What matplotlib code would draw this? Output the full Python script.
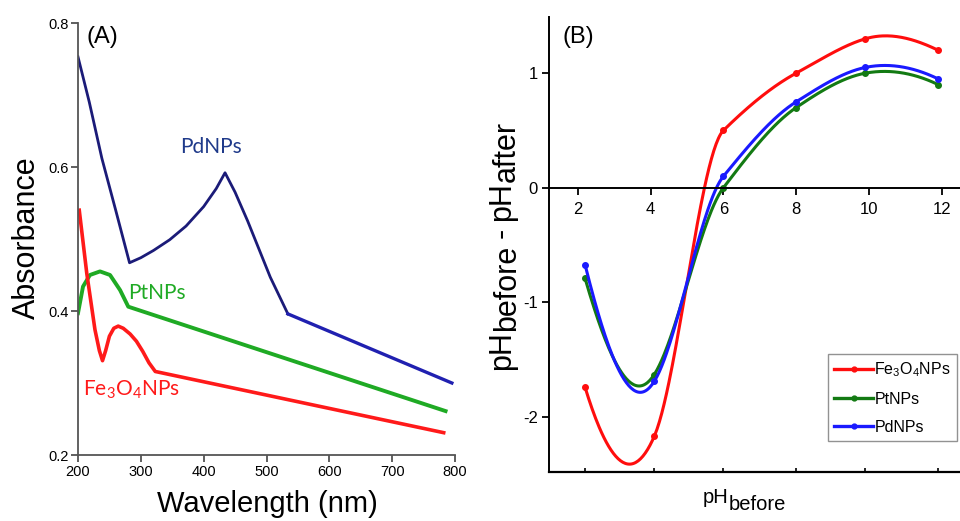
import matplotlib
matplotlib.use("Agg")
import matplotlib.pyplot as plt
import numpy as np
from matplotlib.transforms import IdentityTransform

plt.rcParams["font.family"] = ["Liberation Sans", "DejaVu Sans"]
plt.rcParams["axes.unicode_minus"] = False

# (A) UV-vis spectra
pd_nm = [200, 218, 238, 260, 282, 300, 320, 346, 372, 400, 420, 434, 450, 470, 506, 534, 795]
pd_abs = [0.753, 0.69, 0.612, 0.54, 0.467, 0.474, 0.484, 0.499, 0.518, 0.545, 0.570, 0.592,
          0.565, 0.525, 0.447, 0.396, 0.300]
pt_nm = [200, 208, 219, 235, 251, 267, 280, 785]
pt_abs = [0.397, 0.434, 0.450, 0.455, 0.450, 0.429, 0.406, 0.261]
fe_nm = [202, 214, 227, 234, 239, 244, 250, 257, 264, 272, 283, 293, 303, 313, 323, 782]
fe_abs = [0.540, 0.452, 0.374, 0.345, 0.331, 0.345, 0.365, 0.376, 0.379, 0.376, 0.368,
          0.358, 0.344, 0.328, 0.316, 0.231]
pd_break = 534  # colour changes after the shoulder

# (B) point of zero charge
ph_before = [2.2, 4.1, 6.0, 8.0, 9.9, 11.9]
d_fe = [-1.74, -2.17, 0.50, 1.00, 1.30, 1.20]
d_pt = [-0.79, -1.63, 0.00, 0.70, 1.00, 0.90]
d_pd = [-0.67, -1.69, 0.10, 0.75, 1.05, 0.95]

FE_LABEL = r"Fe$_\mathregular{3}$O$_\mathregular{4}$NPs"


def akima(x, y, n=300):
    """Akima spline through the points, as Origin draws its 'spline' connector."""
    x = np.asarray(x, float); y = np.asarray(y, float)
    d = np.diff(y) / np.diff(x)
    # two extrapolated secants on each side
    d = np.concatenate([[3 * d[0] - 2 * d[1], 2 * d[0] - d[1]], d,
                        [2 * d[-1] - d[-2], 3 * d[-1] - 2 * d[-2]]])
    t = np.empty(len(x))
    for i in range(len(x)):
        dm2, dm1, d0, dp1 = d[i], d[i + 1], d[i + 2], d[i + 3]
        wa, wb = abs(dp1 - d0), abs(dm1 - dm2)
        t[i] = (dm1 + d0) / 2 if wa + wb == 0 else (wa * dm1 + wb * d0) / (wa + wb)
    xs = np.linspace(x[0], x[-1], n)
    k = np.clip(np.searchsorted(x, xs) - 1, 0, len(x) - 2)
    h = x[k + 1] - x[k]
    s = (xs - x[k]) / h
    h00 = 2 * s**3 - 3 * s**2 + 1; h10 = s**3 - 2 * s**2 + s
    h01 = -2 * s**3 + 3 * s**2; h11 = s**3 - s**2
    ys = h00 * y[k] + h10 * h * t[k] + h01 * y[k + 1] + h11 * h * t[k + 1]
    return xs, ys


def chain_text(fig, x, y, parts, size, rotation=0, **kw):
    """Lay out text pieces end to end (pixel coords), each with its own baseline drop."""
    r = fig.canvas.get_renderer()
    for s, drop, gap in parts:
        if rotation == 90:
            y += gap
            px, py = x + drop, y
        else:
            x += gap
            px, py = x, y - drop
        t = fig.text(px, py, s, fontsize=size, rotation=rotation, rotation_mode="anchor",
                     ha="left", va="baseline", transform=IdentityTransform(), **kw)
        bb = t.get_window_extent(r)
        if rotation == 90:
            y += bb.height
        else:
            x += bb.width


fig = plt.figure(figsize=(9.6, 5.21), dpi=100)
W, H = 960, 521

# ---- panel A ----
ax1 = fig.add_axes([78 / W, 1 - 455 / H, (455 - 78) / W, (455 - 23) / H])
pd_nm_a = np.array(pd_nm); pd_abs_a = np.array(pd_abs)
left = pd_nm_a <= pd_break
right = pd_nm_a >= pd_break
ax1.plot(pd_nm_a[left], pd_abs_a[left], color="#1b1b78", lw=2.0, solid_joinstyle="round")
ax1.plot(pd_nm_a[right], pd_abs_a[right], color="#2020b0", lw=2.4)
ax1.plot(pt_nm, pt_abs, color="#1faa24", lw=2.8, solid_joinstyle="round")
ax1.plot(fe_nm, fe_abs, color="#ff1a1a", lw=2.6, solid_joinstyle="round")
ax1.set_xlim(200, 800); ax1.set_ylim(0.2, 0.8)
ax1.set_xticks(range(200, 801, 100)); ax1.set_yticks([0.2, 0.4, 0.6, 0.8])
for s in ("top", "right"):
    ax1.spines[s].set_visible(False)
for s in ("left", "bottom"):
    ax1.spines[s].set_color("#555555"); ax1.spines[s].set_linewidth(1.3)
ax1.tick_params(direction="out", length=5, width=1.2, color="#444444", labelsize=10.5, pad=2)
ax1.text(362, 0.619, "PdNPs", color="#1f3a8a", fontsize=15, family="Lato")
ax1.text(279, 0.416, "PtNPs", color="#1faa24", fontsize=15, family="Lato")
ax1.text(208, 0.283, FE_LABEL, color="#ff1a1a", fontsize=15, family="Lato")
fig.text(86 / W, 1 - 43 / H, "(A)", fontsize=17, va="baseline")
fig.text(267 / W, 1 - 512 / H, "Wavelength (nm)", fontsize=21, ha="center", va="baseline")
fig.text(35 / W, 1 - 238 / H, "Absorbance", fontsize=22, rotation=90,
         ha="center", va="baseline", rotation_mode="anchor")

# ---- panel B ----
ax2 = fig.add_axes([549 / W, 1 - 472 / H, (W - 549) / W, (472 - 17) / H])
series = [(FE_LABEL, d_fe, "#ff0d0d"), ("PtNPs", d_pt, "#137a13"), ("PdNPs", d_pd, "#1a1aff")]
for label, vals, c in series:
    xs, ys = akima(ph_before, vals)
    ax2.plot(xs, ys, color=c, lw=2.2)
    ax2.plot(ph_before, vals, "o", color=c, ms=4)
    ax2.plot([], [], "-o", color=c, lw=2.4, ms=3.5, label=label)
ax2.set_xlim(1.21, 12.5); ax2.set_ylim(-2.48, 1.49)
ax2.spines["top"].set_visible(False); ax2.spines["right"].set_visible(False)
ax2.spines["bottom"].set_position(("data", 0))
ax2.spines["bottom"].set_linewidth(1.4); ax2.spines["left"].set_linewidth(1.4)
ax2.set_xticks(range(2, 13, 2)); ax2.set_yticks([-2, -1, 0, 1])
ax2.tick_params(direction="out", length=5, width=1.3, labelsize=12, pad=5)
ax2.tick_params(axis="y", pad=3)
frame = ax2.secondary_xaxis(0.0)
frame.set_xticks(ph_before)
frame.tick_params(direction="in", length=3, width=1.2, labelbottom=False)
frame.spines["bottom"].set_linewidth(1.6)
fig.text(562 / W, 1 - 43 / H, "(B)", fontsize=17, va="baseline")
ax2.legend(loc="upper left", bbox_to_anchor=(828 / W, 1 - 354 / H), bbox_transform=fig.transFigure,
           borderaxespad=0, fontsize=11.5, frameon=True, fancybox=False, edgecolor="#777777",
           handlelength=2.4, handletextpad=0.1, labelspacing=0.8, borderpad=0.4)

chain_text(fig, 703, H - 503, [("pH", 0, 0), ("before", 7, 0)], 14.5)
chain_text(fig, 510, H - 370, [("pH", 0, 0), ("before", 5, 0), ("-", 0, 7),
                               ("pH", 0, 7), ("after", 5, 0)], 22, rotation=90)

fig.savefig("out.png", dpi=100)
